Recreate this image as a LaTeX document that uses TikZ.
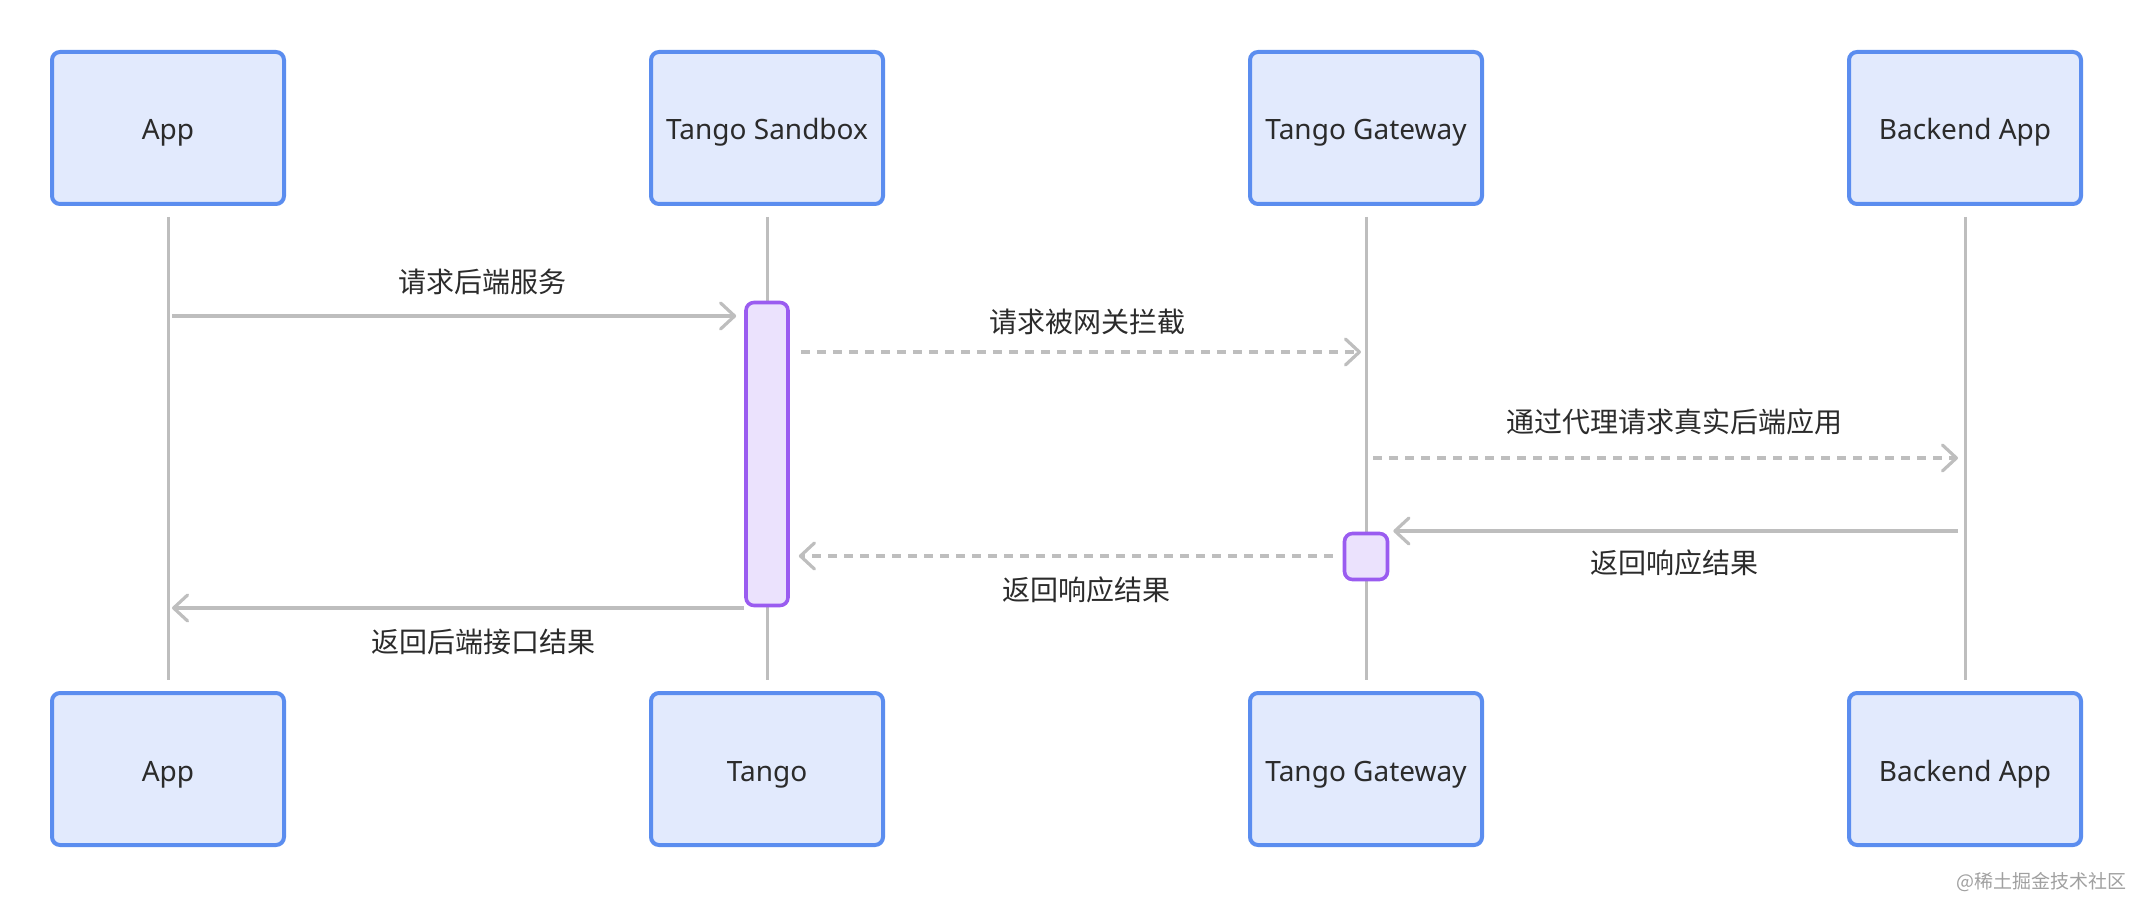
\documentclass[tikz,border=0pt]{standalone}
\usepackage{fontspec}
\setmainfont{Noto Sans}
\newfontfamily\cjk{Noto Sans CJK SC}
\usetikzlibrary{arrows.meta}
\definecolor{boxfill}{HTML}{E2EAFD}
\definecolor{boxline}{HTML}{5B8DEF}
\definecolor{actfill}{HTML}{EBE2FD}
\definecolor{actline}{HTML}{9A5CF0}
\definecolor{lineg}{HTML}{BEBEBE}
\definecolor{txt}{HTML}{2B2B2B}
\definecolor{wm}{HTML}{A0A0A0}
\begin{document}
\begin{tikzpicture}[x=0.5pt,y=-0.5pt,
  actor/.style={draw=boxline, fill=boxfill, line width=2pt, rounded corners=4pt,
    minimum width=116pt, minimum height=76pt, inner sep=0pt,
    text height=12pt, text depth=0pt,
    font=\fontsize{14}{16}\selectfont, text=txt},
  actbar/.style={draw=actline, fill=actfill, line width=1.8pt, rounded corners=4pt,
    inner sep=0pt},
  life/.style={draw=lineg, line width=1.5pt},
  solidmsg/.style={draw=lineg, line width=1.6pt,
    -{Straight Barb[length=7pt,width=13pt,line width=1.6pt,round]}},
  dashmsg/.style={solidmsg, dash pattern=on 4.5pt off 3.5pt},
  lbl/.style={font=\cjk\fontsize{14}{16}\selectfont, text=txt, inner sep=0pt}
]
\useasboundingbox (0,0) rectangle (2134,898);

% actors
\node[actor] (appT) at (168,128) {App};
\node[actor] (sbT)  at (767,128) {Tango Sandbox};
\node[actor] (gwT)  at (1366,128) {Tango Gateway};
\node[actor] (beT)  at (1965,128) {Backend App};
\node[actor] (appB) at (168,769) {App};
\node[actor] (sbB)  at (767,769) {Tango};
\node[actor] (gwB)  at (1366,769) {Tango Gateway};
\node[actor] (beB)  at (1965,769) {Backend App};

% lifelines
\draw[life, shorten <=5.5pt, shorten >=5.5pt] (appT.south) -- (appB.north);
\draw[life, shorten <=5.5pt, shorten >=5.5pt] (sbT.south) -- (sbB.north);
\draw[life, shorten <=5.5pt, shorten >=5.5pt] (gwT.south) -- (gwB.north);
\draw[life, shorten <=5.5pt, shorten >=5.5pt] (beT.south) -- (beB.north);

% activations
\node[actbar, minimum width=21pt, minimum height=151.5pt] (actS) at (767,454) {};
\node[actbar, minimum width=21.5pt, minimum height=23pt] (actG) at (1366,556.5) {};

% messages
\draw[solidmsg, shorten <=2pt, shorten >=4pt] (appT.south |- 0,316) -- (actS.west |- 0,316);
\draw[dashmsg, shorten <=5.5pt, shorten >=2.5pt] (actS.east |- 0,352) -- (gwT.south |- 0,352);
\draw[dashmsg, shorten <=3.5pt, shorten >=3.5pt] (gwT.south |- 0,458) -- (beT.south |- 0,458);
\draw[solidmsg, shorten <=3.5pt, shorten >=2pt] (beT.south |- 0,531) -- (actG.east |- 0,531);
\draw[dashmsg, shorten <=5pt, shorten >=4.5pt] (actG.west |- 0,556) -- (actS.east |- 0,556);
\draw[solidmsg, shorten >=2pt] (actS.west |- 0,608) -- (appT.south |- 0,608);

% labels
\node[lbl] (l1) at (482,282) {请求后端服务};
\node[lbl] (l2) at (1087,322) {请求被网关拦截};
\node[lbl] (l3) at (1674,422) {通过代理请求真实后端应用};
\node[lbl] (l4) at (1674,563) {返回响应结果};
\node[lbl] (l5) at (1086,590) {返回响应结果};
\node[lbl] (l6) at (483,642) {返回后端接口结果};

% watermark
\node[font=\cjk\fontsize{9.5}{11}\selectfont, text=wm, inner sep=0pt, anchor=east] (wmk) at (2127,882) {@稀土掘金技术社区};
\end{tikzpicture}
\end{document}
